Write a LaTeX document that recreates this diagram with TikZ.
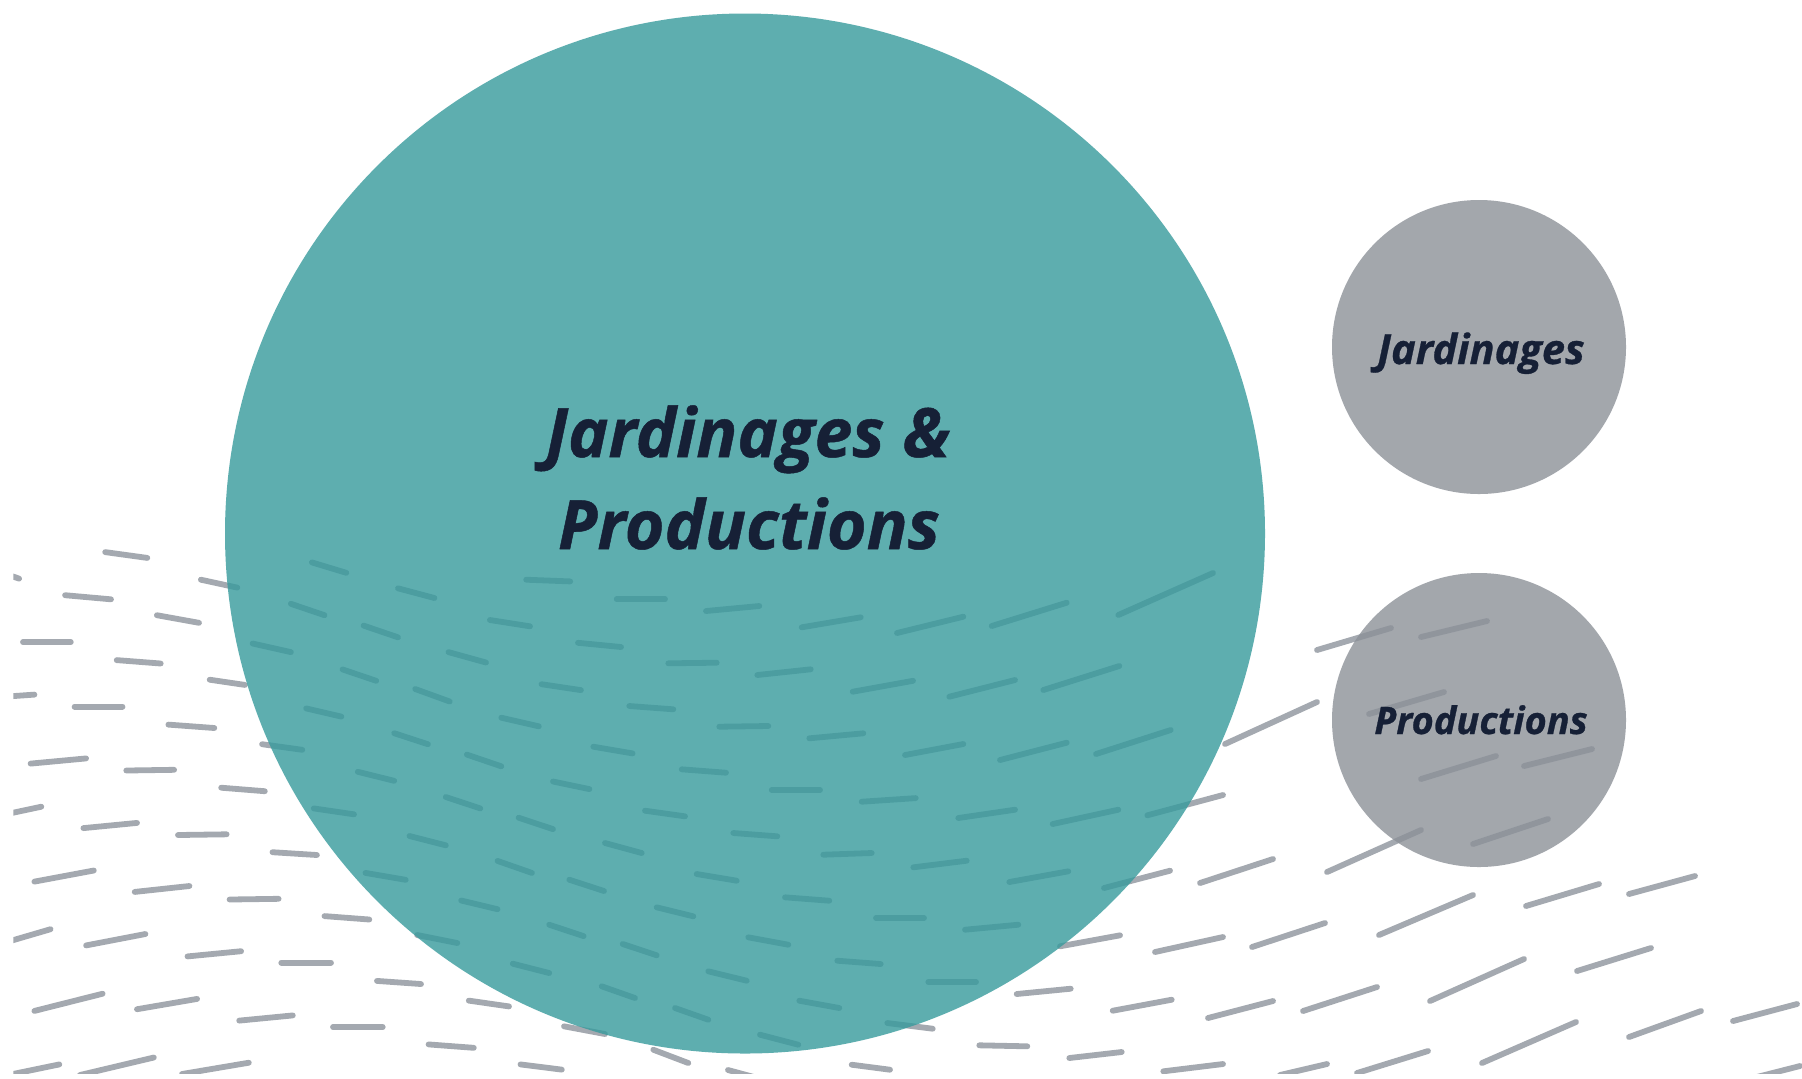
\documentclass[tikz,border=0pt]{standalone}
\usepackage{fontspec}
\newfontfamily\osans{Open Sans}
\definecolor{dashgray}{RGB}{164,169,176}
\definecolor{tealc}{RGB}{54,154,156}
\definecolor{grayc}{RGB}{140,145,152}
\definecolor{navy}{RGB}{22,32,54}
\begin{document}
\begin{tikzpicture}[x=0.5pt,y=-0.5pt,
  dashline/.style={draw=dashgray,line width=2.9pt,line cap=round},
  bigdisc/.style={circle,inner sep=0pt,minimum size=520pt,fill=tealc,fill opacity=0.8},
  smalldisc/.style={circle,inner sep=0pt,minimum size=147pt,fill=grayc,fill opacity=0.8},
  bigtext/.style={font=\osans\bfseries\itshape\fontsize{34}{42}\selectfont\addfontfeature{FakeBold=0.7},text=navy,inner sep=0pt,anchor=base},
  smalltext/.style={font=\osans\bfseries\itshape\fontsize{19}{22}\selectfont\addfontfeature{FakeBold=0.7},text=navy,inner sep=0pt,anchor=base}]
\useasboundingbox (0,0) rectangle (1802,1078);
\fill[white] (0,0) rectangle (1802,1078);
\begin{scope}
\clip (13.4,0) rectangle (1802,1073);
\foreach \a/\b/\c/\d in {
105.2/552.1/147.3/557.9, 0/572/19.1/578.6, 200.9/579.7/237.3/587.6, 65.1/595.2/111/599.3,
156.9/615.2/199/622.8, 23/642.1/70.8/642.1, 116.7/660.1/160.7/663.5, 209.7/679.7/244.9/684.9,
0/697/34.4/694.6, 74.6/706.6/122.5/706.6, 168.4/724.6/214.3/728, 262.1/744.2/302.3/749.8,
30.6/763.6/86.1/758.4, 126.3/770.5/174.1/769.8, 221.2/787.7/264.8/791.2, 0/815.5/41.3/806.7,
83.4/828.1/137/822.9, 178/835/226.6/834.3, 272.5/852.2/316.9/855, 34.4/881.6/93.8/870.5,
134.7/891.9/189.4/886, 229.6/899.5/278.6/898.8, 324.5/916.1/369.3/919.5, 0/944/50.5/929.2,
86.1/945.4/145.4/934, 187.5/956.4/241.1/951.2, 281.3/962.6/331/962.6, 377/980.9/421/984,
34.4/1010.9/102.6/993.7, 137/1009.2/197.1/998.9, 239.2/1020.6/292.8/1015.4, 333/1027.1/382.7/1027.1,
428.6/1044.4/473.8/1047.8, 468.8/1000.6/509/1006.4, 520.5/1064.4/561.8/1069.6, 564/1026.3/605/1034,
8/1075/59.3/1064.4, 80/1075/153.8/1057.5, 182/1074/248.8/1062.7,
311.9/562.4/346.3/572.8, 398/588.3/434.4/598, 526.2/579.7/570.2/581.4, 290.9/603.8/324.5/615.2,
363.6/625.6/398/637.3, 489.9/620/530/626.3, 578/642.8/621/647, 252.6/643.5/290.9/652.1,
342.5/669.4/376.2/680.8, 448.5/652.1/486/662.5, 415.2/689/449.7/701.5, 541.5/684.2/580.9/690.1,
306.2/708.4/341.4/716.6, 394.2/733.2/427.9/744.2, 501.3/717.7/538.8/726.3, 357.8/771.8/394.2/780.8,
466.9/754.6/501.3/766.3, 553/781.5/589.4/789.1, 593.3/746.7/632.6/753.4, 313.8/808.4/354/814.3,
445.8/797/480.3/808.4, 518.6/817.7/553/829.1, 409.5/836/445.8/845.3, 365.5/872.9/405.7/879.8,
497.5/860.9/531.9/872.9, 569.3/879.7/604/891, 461.2/900.5/497.5/909.2, 549.2/924.7/583.6/936.1,
417.1/935/457.3/943, 512.8/963.7/549.2/973,
616.7/599.3/665/599.3, 706/611/759.3/606, 801.7/627.3/860.7/617.3, 897/633/963.3/616.7,
991.7/626/1066.7/602.7, 1118.3/615/1213/573, 668.3/663.3/716.7/662.7, 757.3/675/810.7/669.3,
852.7/691.7/913/680.8, 949.3/696.7/1015/680, 1043.3/690/1119.3/666, 629.3/706/673.3/709.3,
719.3/726.7/768.3/726, 809.3/738.3/863.3/733.3, 905/755/963.3/744, 1000/760/1066.7/742.7,
1096/754/1170.7/730, 681.7/769.3/726/772.7, 771.7/790/820/790, 861.7/801.7/915.7/798.1,
958.3/818/1015/809.7, 1052.7/824/1118.3/809.7, 1147.3/815.3/1223/795, 645/810.7/685/816.3,
733.3/833/777.3/836.3, 823.3/854.7/871.7/853, 913.3/867.3/966.7/860.7, 1009.3/882/1068.3/871.3,
1104/888/1170/870.7, 605/843/641.7/853, 696.7/874/736.7/880.7, 785/897.3/829.3/900.7,
876/918/924/918, 965/929.7/1018.3/924.7, 1060/946.3/1120/935.3, 1155/952/1223/937,
656.7/907.3/693.3/916.3, 748.3/937.3/788.3/944.7, 837.3/960.7/880.7/964, 622.7/944/656.7/955.3,
708.3/971.3/746.7/980.7, 928.3/982/976/982, 1016.7/994/1070.7/988.7, 1112.7/1010.7/1171.7/999.7,
601.7/986.3/635/998, 675/1008/708.3/1019.7, 760/1034.7/798.3/1044.7, 799.3/1000.7/839.3/1008,
887.3/1023/932.7/1028.7, 979.3/1045.3/1027.3/1046.3, 1069.3/1058/1121.7/1052, 653.3/1049.7/688.3/1063,
851.7/1064.7/890/1069.7, 1163.3/1071.3/1223/1064, 728/1070/765/1080,
1317/650/1391/628, 1421/637/1487/621, 1225/744/1317/702, 1369/714/1444/692,
1421/779/1496/756, 1524/766/1592/749, 1327/872/1421/830, 1473/844/1548/819,
1200/883/1273/859, 1379/935/1473/895, 1526/906/1599/884, 1629/894/1695/876,
1252/947/1325/923, 1430/1001/1524/959, 1577/971/1651/948, 1208/1018/1273/1001,
1303/1011/1377/987, 1482/1063/1576/1022, 1629/1037/1701/1011, 1733/1021/1797/1004,
1357/1073/1428/1051, 1280/1075/1327/1064, 1745/1080/1800/1066}
  \draw[dashline] (\a,\b) -- (\c,\d);
\end{scope}
\node[bigdisc] (big) at (745,533.5) {};
\node[smalldisc] (jard) at (1479,347) {};
\node[smalldisc] (prod) at (1479,720) {};
\node[bigtext] (bigl1) at (748,457) {Jardinages \&};
\node[bigtext] (bigl2) at (749,549) {Productions};
\node[smalltext,font=\osans\bfseries\itshape\fontsize{20.8}{24}\selectfont\addfontfeature{FakeBold=0.7}] (jardt) at (1481,364) {Jardinages};
\node[smalltext] (prodt) at (1481,734) {Productions};
\end{tikzpicture}
\end{document}
